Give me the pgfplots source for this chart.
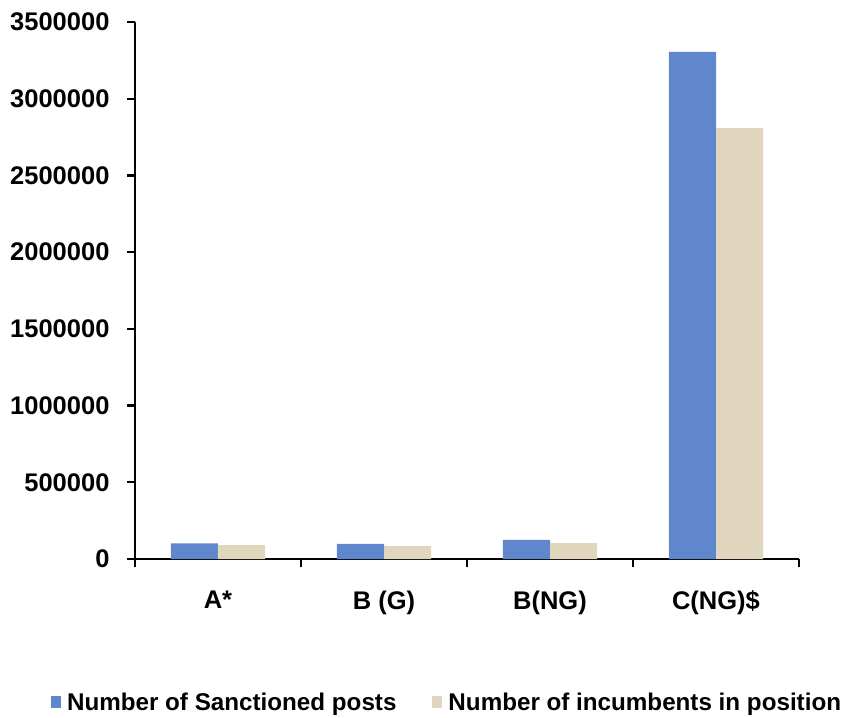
\documentclass[border=0pt]{standalone}
\usepackage{fontspec}
\setmainfont{Liberation Sans}
\usepackage{pgfplots}
\pgfplotsset{compat=1.18}

\definecolor{sancblue}{RGB}{96,134,204}
\definecolor{incumtan}{RGB}{224,214,190}

\begin{document}
\begin{tikzpicture}
% frame of the reference canvas (axis origin at its lower left)
\useasboundingbox (-135pt,-158pt) rectangle (710pt,559pt);
\begin{axis}[
    at={(0pt,0pt)}, anchor=south west,
    width=664pt, height=537pt,
    scale only axis,
    ybar=0pt,
    bar width=0.284,
    axis lines=left,
    axis line style={line width=2.2pt, -},
    xmin=-0.5, xmax=3.5,
    ymin=0, ymax=3500000,
    ytick={0,500000,...,3500000},
    scaled y ticks=false,
    /pgf/number format/.cd, fixed, 1000 sep={}, assume math mode=true,
    /pgfplots/.cd,
    xtick={0,1,2,3},
    xticklabels={A*, B (G), B(NG), C(NG)\$},
    major x tick style={draw=none},
    minor xtick={-0.5,0.5,1.5,2.5,3.5},
    tick align=outside,
    major tick length=8pt,
    minor tick length=8pt,
    tick style={line width=2.2pt, black},
    ticklabel style={font=\fontsize{25.5}{30}\selectfont\bfseries},
    xticklabel style={yshift=-20pt},
    yticklabel style={xshift=-14pt},
    legend style={
        at={(0.470,-0.268)}, anchor=center,
        draw=none, fill=none,
        legend columns=2,
        font=\fontsize{24.2}{28}\selectfont\bfseries,
        /tikz/every even column/.append style={column sep=34pt},
    },
    legend image code/.code={\fill[#1] (0pt,-5pt) rectangle (10pt,7pt); \path (14pt,0pt);},
]
\addplot[draw=none, fill=sancblue] coordinates {(0,102000) (1,98000) (2,124000) (3,3305000)};
\addplot[draw=none, fill=incumtan] coordinates {(0,91000) (1,85000) (2,104000) (3,2808000)};
\legend{Number of Sanctioned posts, Number of incumbents in position}
\end{axis}
\end{tikzpicture}
\end{document}
